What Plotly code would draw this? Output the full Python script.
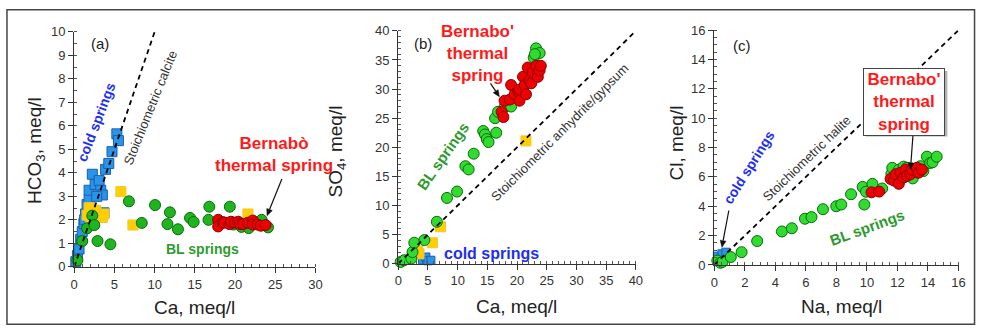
import math
import plotly.graph_objects as go

W, H = 985, 336
FONT = "Liberation Sans, Arial, sans-serif"

# ---------------- Panel (a): HCO3 vs Ca ----------------
cold_a_ca = [0.2, 0.4, 0.6, 0.8, 1.0, 1.2, 1.4, 1.6, 1.85, 1.85, 2.25, 2.6, 3.1, 3.3, 3.5, 3.7, 3.9, 4.3, 4.7, 5.3, 5.5, 1.3, 2.8]
cold_a_hco3 = [0.22, 0.49, 0.76, 1.17, 1.5, 1.84, 2.25, 2.65, 2.86, 3.26, 3.94, 3.5, 3.67, 3.26, 3.06, 2.3, 4.15, 4.4, 4.9, 5.66, 5.37, 2.0, 3.0]
yellow_a_ca = [1.85, 2.05, 2.7, 3.5, 3.7, 1.6, 5.8, 7.3, 21.6]
yellow_a_hco3 = [2.52, 2.1, 2.4, 2.1, 2.25, 2.2, 3.2, 1.78, 2.25]
bl_a_ca = [0.4, 1.0, 1.6, 2.25, 2.5, 2.9, 4.5, 6.8, 8.4, 10.05, 11.6, 11.9, 12.9, 14.4, 14.85, 16.7, 16.8, 18.2, 19.35, 19.8, 20.8, 21.7, 22.5, 23.3, 24.1]
bl_a_hco3 = [0.28, 1.1, 1.64, 2.18, 1.78, 1.1, 0.96, 2.79, 1.87, 2.63, 1.82, 2.32, 1.6, 2.08, 1.91, 2.0, 2.56, 1.85, 2.56, 1.8, 1.7, 1.65, 1.9, 2.0, 1.68]
red_a_ca = [17.9, 17.9, 18.5, 18.7, 19.3, 19.5, 20.0, 20.4, 20.6, 21.0, 21.6, 22.2, 22.2, 22.8, 23.2, 23.8]
red_a_hco3 = [2.0, 1.72, 1.9, 1.88, 1.82, 1.92, 1.88, 1.92, 1.82, 1.82, 1.88, 1.97, 1.8, 1.8, 1.75, 1.78]
calcite_x = [0, 10]
calcite_y = [0, 10]

# ---------------- Panel (b): SO4 vs Ca ----------------
cold_b_ca = [4.1, 4.65, 5.0, 5.5]
cold_b_so4 = [0.6, 1.15, 0.5, 0.6]
yellow_b_ca = [21.5, 7.1, 5.75, 3.5, 3.3]
yellow_b_so4 = [21.1, 6.35, 3.6, 1.7, 2.2]
bl_b_ca = [0.4, 1.0, 2.2, 2.4, 2.7, 4.4, 6.5, 8.2, 9.9, 11.3, 11.85, 12.7, 14.3, 14.6, 14.9, 15.2, 16.5, 16.3, 16.8, 17.9, 19.0, 22.8, 23.2, 23.8, 23.0]
bl_b_so4 = [0.3, 0.6, 0.9, 2.0, 3.6, 4.06, 7.2, 11.3, 12.4, 16.75, 16.2, 18.9, 22.8, 22.2, 21.4, 20.9, 22.5, 25.0, 26.1, 26.9, 27.0, 35.4, 37.0, 36.2, 36.0]
red_b_ca = [17.4, 17.7, 17.9, 18.8, 19.0, 19.6, 20.2, 20.4, 20.4, 21.0, 21.3, 21.5, 21.8, 22.1, 22.4, 22.6, 23.2, 23.5, 23.8, 24.0]
red_b_so4 = [26.1, 25.2, 28.0, 28.2, 30.7, 29.1, 29.6, 29.9, 28.0, 32.1, 30.7, 29.1, 33.7, 31.5, 31.0, 32.9, 34.0, 32.1, 33.2, 34.0]
anhydrite_x = [0, 40]
anhydrite_y = [0, 40]

# ---------------- Panel (c): Cl vs Na ----------------
cold_c_na = [0.2, 0.5, 0.76]
cold_c_cl = [0.6, 0.76, 0.87]
bl_c_na = [0.2, 0.4, 0.54, 1.08, 1.79, 2.81, 4.43, 5.08, 5.94, 6.37, 7.12, 7.99, 8.32, 8.96, 9.72, 9.83, 9.94, 10.36, 11.0,
           11.6, 11.66, 11.9, 12.1, 12.25, 12.4, 12.63, 12.85, 13.0, 13.28, 13.5, 13.7, 13.93, 14.14, 14.3, 14.57]
bl_c_cl = [0.3, 0.15, 0.21, 0.54, 0.87, 1.63, 2.28, 2.5, 3.15, 3.26, 3.8, 4.0, 4.12, 4.82, 5.32, 4.12, 4.99, 5.53, 5.21,
           6.2, 6.62, 6.0, 6.5, 6.07, 6.7, 6.62, 6.07, 5.9, 6.3, 6.73, 6.4, 7.38, 6.95, 7.0, 7.38]
red_c_na = [10.3, 10.8, 11.55, 11.77, 11.88, 12.09, 12.2, 12.42, 12.52, 12.63, 12.85, 12.95, 13.28, 13.39, 13.6]
red_c_cl = [4.95, 5.0, 5.86, 5.75, 6.18, 5.53, 6.29, 5.97, 6.5, 6.07, 6.18, 6.5, 6.62, 6.29, 6.5]
halite_x = [0, 16]
halite_y = [0, 16]

BLUE_FILL, BLUE_EDGE = "#2a95e8", "#1a5fb0"
YEL_FILL, YEL_EDGE = "#ffd000", "#f4c430"
GREEN_FILL_A, GREEN_FILL, GREEN_EDGE = "#1fb51f", "#2fdc2f", "#0b6a0b"
RED_FILL, RED_EDGE = "#ee0000", "#8a0000"


def X(px):
    return px / W


def Y(py):
    return 1 - py / H


fig = go.Figure()


def add_pts(x, y, axes, symbol, size, fill, edge):
    fig.add_trace(go.Scatter(
        x=x, y=y, mode="markers", xaxis=axes[0], yaxis=axes[1], cliponaxis=False,
        marker=dict(symbol=symbol, size=size, color=fill, line=dict(color=edge, width=1)),
        showlegend=False, hoverinfo="skip"))


def add_line(x, y, axes):
    fig.add_trace(go.Scatter(
        x=x, y=y, mode="lines", xaxis=axes[0], yaxis=axes[1], cliponaxis=False,
        line=dict(color="black", width=1.8, dash="5px,4px"), showlegend=False, hoverinfo="skip"))


A, B, C = ("x", "y"), ("x2", "y2"), ("x3", "y3")

add_pts(cold_a_ca, cold_a_hco3, A, "square", 10, BLUE_FILL, BLUE_EDGE)
add_pts(yellow_a_ca, yellow_a_hco3, A, "square", 10, YEL_FILL, YEL_EDGE)
add_pts(bl_a_ca, bl_a_hco3, A, "circle", 11, GREEN_FILL_A, GREEN_EDGE)
add_pts(red_a_ca, red_a_hco3, A, "circle", 11, RED_FILL, RED_EDGE)
add_line(calcite_x, calcite_y, A)

add_pts(cold_b_ca, cold_b_so4, B, "square", 8, BLUE_FILL, BLUE_EDGE)
add_pts(yellow_b_ca, yellow_b_so4, B, "square", 10, YEL_FILL, YEL_EDGE)
add_pts(bl_b_ca, bl_b_so4, B, "circle", 11, GREEN_FILL, GREEN_EDGE)
add_pts(red_b_ca, red_b_so4, B, "circle", 11, RED_FILL, RED_EDGE)
add_line(anhydrite_x, anhydrite_y, B)

add_pts(cold_c_na, cold_c_cl, C, "square", 8, BLUE_FILL, BLUE_EDGE)
add_pts(bl_c_na, bl_c_cl, C, "circle", 11, GREEN_FILL, GREEN_EDGE)
add_pts(red_c_na, red_c_cl, C, "circle", 11, RED_FILL, RED_EDGE)
add_line(halite_x, halite_y, C)


def axis(domain, anchor, rng, dtick, minor_dtick):
    return dict(domain=domain, anchor=anchor, range=rng, dtick=dtick, tick0=0,
                showline=True, linecolor="#333", linewidth=1.2,
                ticks="outside", ticklen=5, tickwidth=1, tickcolor="#333",
                showgrid=False, zeroline=False, fixedrange=True,
                tickfont=dict(size=13, color="#333", family=FONT),
                minor=dict(dtick=minor_dtick, tick0=0, ticks="inside", ticklen=3,
                           tickcolor="#555", showgrid=False))


layout_axes = dict(
    xaxis=axis([X(71), X(315)], "y", [0, 30], 5, 1),
    yaxis=axis([Y(272), Y(26)], "x", [0, 10], 1, 0.5),
    xaxis2=axis([X(398.7), X(639)], "y2", [0, 40], 5, 1),
    yaxis2=axis([Y(268.7), Y(25)], "x2", [0, 40], 5, 1),
    xaxis3=axis([X(718.3), X(965.3)], "y3", [0, 16], 2, 0.5),
    yaxis3=axis([Y(270), Y(24.3)], "x3", [0, 16], 2, 0.5),
)

ann = []
shapes = []


def text(px, py, s, size, color, angle=0, bold=False, **kw):
    d = dict(x=X(px), y=Y(py), xref="paper", yref="paper", text=("<b>%s</b>" % s) if bold else s,
             showarrow=False, textangle=angle, xanchor="center", yanchor="middle",
             font=dict(size=size, color=color, family=FONT))
    d.update(kw)
    ann.append(d)


def arrow(hx, hy, tx, ty, head=7.0, half=3.0):
    dx, dy = hx - tx, hy - ty
    L = math.hypot(dx, dy)
    ux, uy = dx / L, dy / L
    bx, by = hx - head * ux, hy - head * uy
    px, py = -uy, ux
    shapes.append(dict(type="line", xref="paper", yref="paper", x0=X(tx), y0=Y(ty), x1=X(bx), y1=Y(by),
                       line=dict(color="#111", width=1.2), layer="above"))
    p1 = (bx + half * px, by + half * py)
    p2 = (bx - half * px, by - half * py)
    path = "M %.5f %.5f L %.5f %.5f L %.5f %.5f Z" % (X(hx), Y(hy), X(p1[0]), Y(p1[1]), X(p2[0]), Y(p2[1]))
    shapes.append(dict(type="path", xref="paper", yref="paper", path=path, fillcolor="#111",
                       line=dict(color="#111", width=0.5), layer="above"))


BLUE_T, GREEN_T, RED_T, GRAY_T = "#1f2ff0", "#2e9a2e", "#ff1a1a", "#333333"

# frame and box shadow
shapes.append(dict(type="rect", xref="paper", yref="paper", x0=X(3), x1=X(981.5), y0=Y(332), y1=Y(3),
                   line=dict(color="#444", width=1.5), fillcolor="rgba(0,0,0,0)", layer="above"))
shapes.append(dict(type="rect", xref="paper", yref="paper", x0=X(871.5), x1=X(954), y0=Y(135.5), y1=Y(67),
                   line=dict(width=0), fillcolor="#b0b0b0", layer="above"))

# Panel (a)
text(96.7, 38.5, "(a)", 15, "#222")
text(93, 120, "cold springs", 14, BLUE_T, -69, True)
text(148, 105, "Stoichiometric calcite", 13, GRAY_T, -68)
text(273, 154.5, "Bernabò<br>thermal spring", 17, RED_T, 0, True)
arrow(266, 218.5, 281, 180)
text(201, 253.5, "BL springs", 14, GREEN_T, 0, True)
text(33, 150, "HCO<sub>3</sub>, meq/l", 19, "#222", -90)
text(193, 315, "Ca, meq/l", 19, "#222")

# Panel (b)
text(423.5, 38.5, "(b)", 15, "#222")
text(478.5, 49, "Bernabo'<br>thermal<br>spring", 17, RED_T, 0, True)
arrow(501, 94, 492, 80)
text(443.5, 156.5, "BL springs", 15, GREEN_T, -55, True)
text(562, 131.5, "Stoichiometric anhydrite/gypsum", 13, GRAY_T, -45)
text(493, 257.5, "cold springs", 16, BLUE_T, 0, True)
text(337, 151, "SO<sub>4</sub>, meq/l", 19, "#222", -90)
text(518.5, 313.5, "Ca, meq/l", 19, "#222")

# Panel (c)
text(746.5, 40.5, "(c)", 15, "#222")
text(752.5, 168, "cold springs", 14, BLUE_T, -58, True)
arrow(726, 251.5, 733, 213)
text(812, 159, "Stoichiometric halite", 13, GRAY_T, -44)
text(872.5, 230.5, "BL springs", 15, GREEN_T, -20, True)
arrow(916.7, 170, 919.3, 133.3)
text(910.5, 99, "Bernabo'<br>thermal<br>spring", 17, RED_T, 0, True,
     bgcolor="white", bordercolor="#444", borderwidth=1, borderpad=1, width=78, height=64)
text(680, 142.5, "Cl, meq/l", 19, "#222", -90)
text(846.5, 313.5, "Na, meq/l", 19, "#222")

fig.update_layout(
    width=W, height=H, autosize=False,
    margin=dict(l=0, r=0, t=0, b=0),
    paper_bgcolor="white", plot_bgcolor="white",
    font=dict(family=FONT, color="#222"),
    annotations=ann, shapes=shapes, showlegend=False,
    **layout_axes,
)

fig.write_html("out.html", config={"displayModeBar": False, "responsive": False},
               post_script="document.body.style.margin='0';document.body.style.overflow='hidden';")
